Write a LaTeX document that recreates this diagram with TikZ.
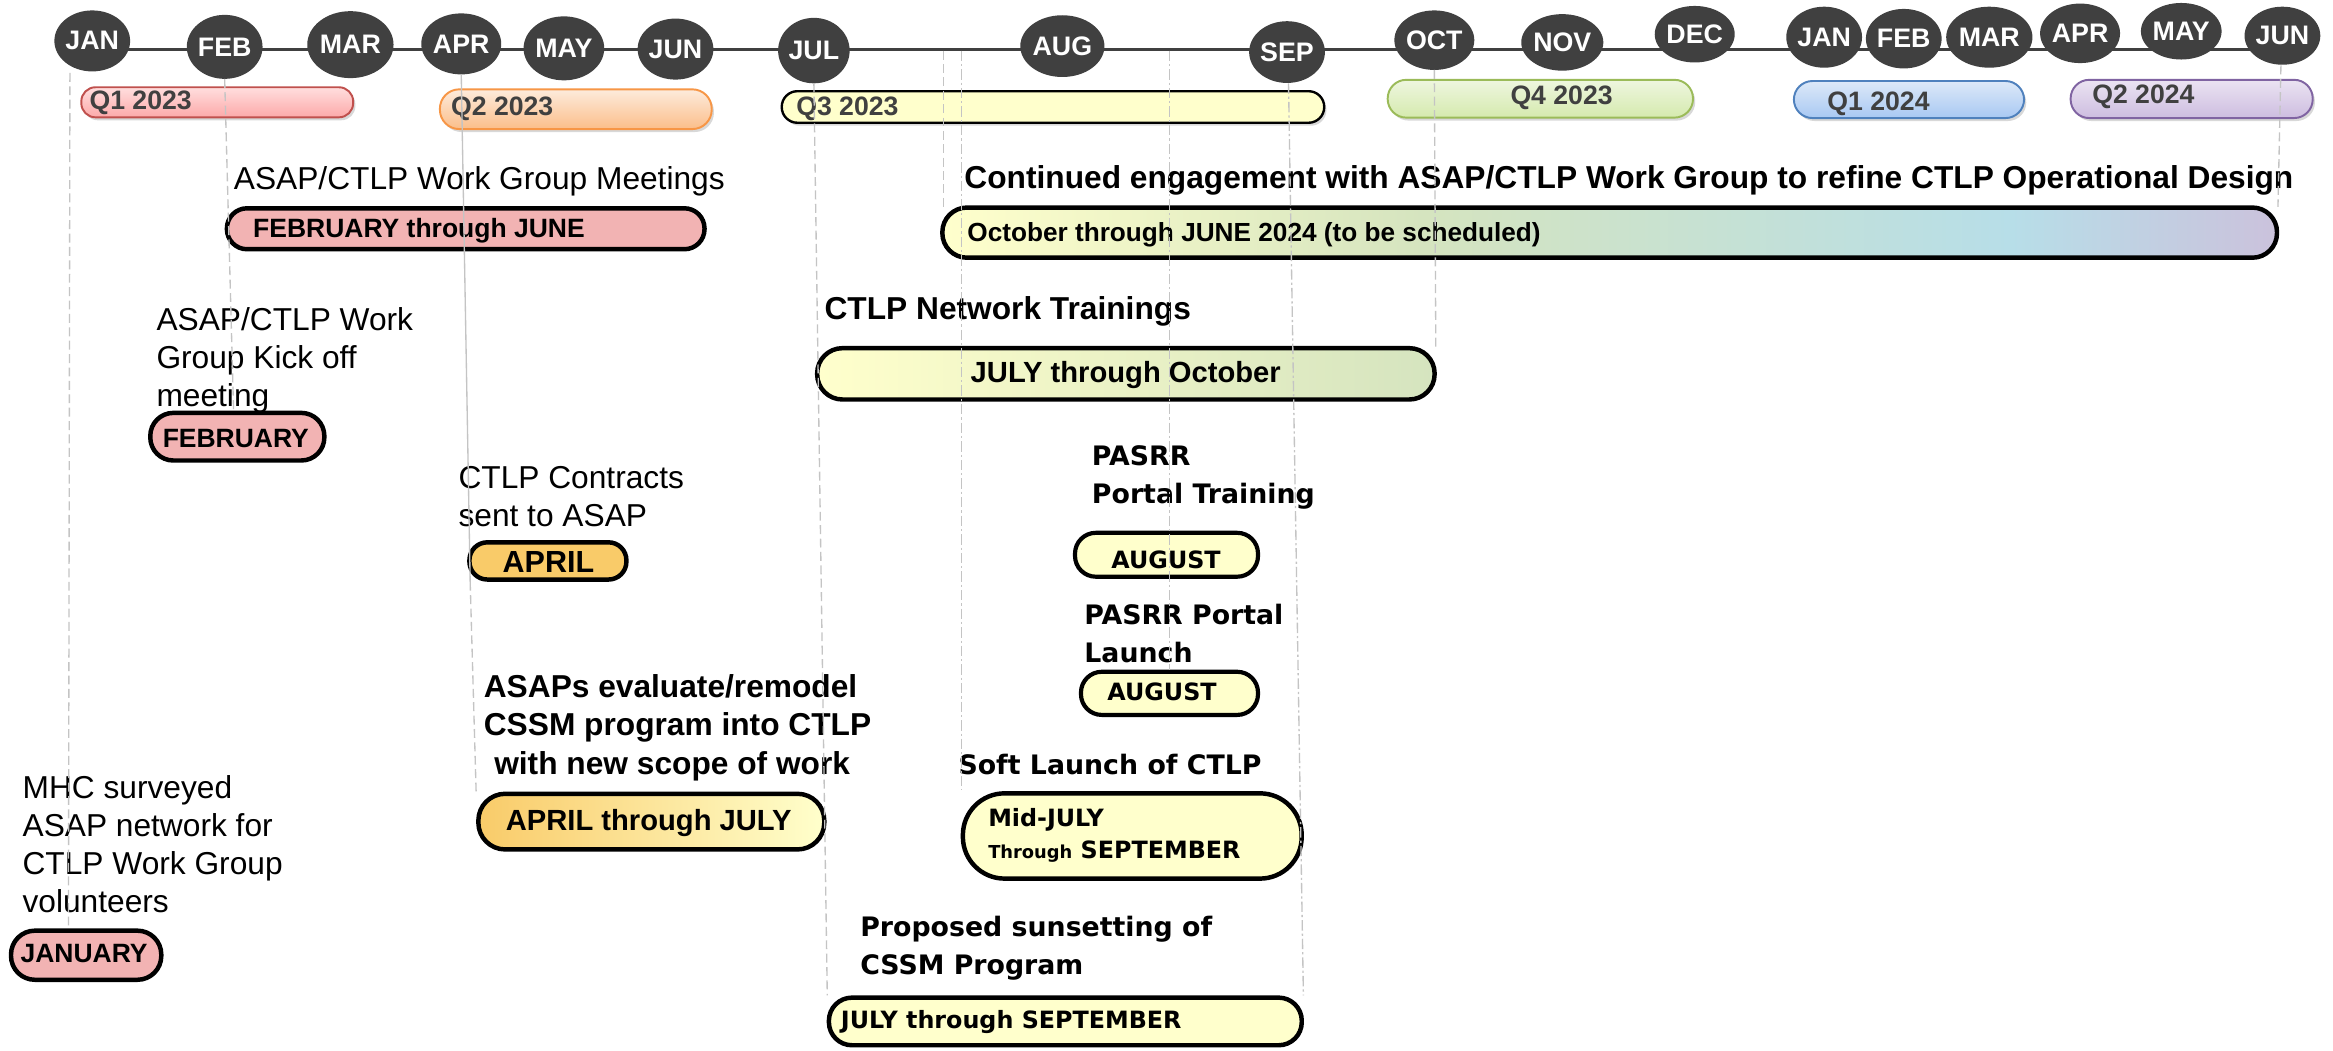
\documentclass[tikz,border=0pt]{standalone}
\usepackage{fontspec}
\setmainfont{Liberation Sans}
\newfontfamily\dvs{DejaVu Sans}
\usetikzlibrary{shapes.geometric,shadows}
\definecolor{mdark}{HTML}{404040}
\definecolor{pinkf}{HTML}{F2B3B3}
\definecolor{aprf}{HTML}{F9CB69}
\definecolor{cyel}{HTML}{FFFFCC}
\definecolor{cgrn}{HTML}{D5E4BF}
\definecolor{cblu}{HTML}{B7DEE8}
\definecolor{clav}{HTML}{CBC2DC}
\definecolor{qonet}{HTML}{FFDEDE}
\definecolor{qoneb}{HTML}{FCA9A9}
\definecolor{qoned}{HTML}{C0504D}
\definecolor{qtwot}{HTML}{FDEBDC}
\definecolor{qtwob}{HTML}{FBBE8A}
\definecolor{qtwod}{HTML}{F79646}
\definecolor{qfourt}{HTML}{EEF6DF}
\definecolor{qfourb}{HTML}{D5EAAE}
\definecolor{qfourd}{HTML}{9BBB59}
\definecolor{qfivet}{HTML}{DDE9F8}
\definecolor{qfiveb}{HTML}{A8C8F3}
\definecolor{qfived}{HTML}{4F81BD}
\definecolor{qsixt}{HTML}{EBE3F2}
\definecolor{qsixb}{HTML}{CDBDE0}
\definecolor{qsixd}{HTML}{8064A2}
\definecolor{guidec}{HTML}{C4C4C4}
\pgfdeclarehorizontalshading{contshade}{100bp}{color(0bp)=(cyel); color(25bp)=(cyel); color(43bp)=(cgrn); color(65bp)=(cblu); color(75bp)=(clav); color(100bp)=(clav)}
\tikzset{
  mon/.style={ellipse, fill=mdark, text=white, inner sep=0pt,
    font=\fontsize{18}{20}\selectfont\bfseries},
  qbar/.style={draw=#1, line width=1.3pt, inner sep=0pt,
    drop shadow={shadow xshift=1.5pt, shadow yshift=-2pt, opacity=0.3}},
  qtxt/.style={font=\fontsize{17.9}{20}\selectfont\bfseries, text=mdark, inner sep=0pt, anchor=west},
  evbox/.style={draw=black, line width=3pt, inner sep=0pt},
  evt/.style={font=\fontsize{21.3}{25.6}\selectfont, anchor=west, inner sep=0pt, align=left},
  evtb/.style={font=\fontsize{21.3}{25.9}\selectfont\bfseries, anchor=west, inner sep=0pt, align=left},
  pas/.style={font=\dvs\fontsize{18}{25.5}\selectfont\bfseries, anchor=west, inner sep=0pt, align=left},
  btxt/.style={font=\fontsize{17.8}{20}\selectfont\bfseries, inner sep=0pt},
  ptxt/.style={font=\dvs\fontsize{16}{21.7}\selectfont\bfseries, inner sep=0pt, align=left},
  guide/.style={draw=guidec, line width=0.9pt, dash pattern=on 6pt off 3pt},
  guided/.style={draw=guidec, line width=0.9pt, dash pattern=on 7pt off 2pt on 1.5pt off 2pt},
  guides/.style={draw=guidec, line width=0.9pt},
}
\begin{document}
\begin{tikzpicture}[x=1pt,y=-1pt]
\useasboundingbox (0,0) rectangle (1568,706);
\fill[white] (0,0) rectangle (1568,706);

% timeline
\coordinate (tls) at (62,33);
\coordinate (tle) at (1534,33);
\draw[mdark, line width=2pt] (tls) -- (tle);

% months
\node[mon, minimum width=42pt, minimum height=41pt] (jan23) at (62,27.5) {JAN};
\node[mon, minimum width=47pt, minimum height=43pt] (feb23) at (151,31.5) {FEB};
\node[mon, minimum width=43pt, minimum height=45pt] (mar23) at (235.5,30) {MAR};
\node[mon, minimum width=41pt, minimum height=41pt] (apr23) at (310,29.5) {APR};
\node[mon, minimum width=41pt, minimum height=43pt] (may23) at (379,32.5) {MAY};
\node[mon, minimum width=41pt, minimum height=41pt] (jun23) at (454,33) {JUN};
\node[mon, minimum width=45pt, minimum height=44pt] (jul23) at (547,34) {JUL};
\node[mon, minimum width=46pt, minimum height=41.5pt] (aug23) at (714,31) {AUG};
\node[mon, minimum width=46pt, minimum height=41.5pt] (sep23) at (865,35) {SEP};
\node[mon, minimum width=47pt, minimum height=40pt] (oct23) at (964,27) {OCT};
\node[mon, minimum width=48pt, minimum height=38pt] (nov23) at (1050,28.5) {NOV};
\node[mon, minimum width=41pt, minimum height=38pt] (dec23) at (1139,23) {DEC};
\node[mon, minimum width=38pt, minimum height=41pt] (jan24) at (1226,25) {JAN};
\node[mon, minimum width=36pt, minimum height=40pt] (feb24) at (1279.5,26) {FEB};
\node[mon, minimum width=41pt, minimum height=41pt] (mar24) at (1337,25) {MAR};
\node[mon, minimum width=42pt, minimum height=40pt] (apr24) at (1398,22.4) {APR};
\node[mon, minimum width=41pt, minimum height=38pt] (may24) at (1466,21) {MAY};
\node[mon, minimum width=41pt, minimum height=39pt] (jun24) at (1534,24) {JUN};

% quarter bars
\node[qbar=qoned, top color=qonet, bottom color=qoneb, rounded corners=9.5pt, minimum width=182.7pt, minimum height=20.2pt] (q1) at (146,68.75) {};
\node[qtxt] (q1t) at (60,68.8) {Q1 2023};
\node[qbar=qtwod, top color=qtwot, bottom color=qtwob, rounded corners=13pt, minimum width=182.7pt, minimum height=26.7pt] (q2) at (387,73.4) {};
\node[qtxt] (q2t) at (303,73) {Q2 2023};
\node[qbar=black, line width=1.6pt, fill=cyel, rounded corners=10.5pt, minimum width=364.6pt, minimum height=21.2pt] (q3) at (707.7,71.9) {};
\node[qtxt] (q3t) at (535,73) {Q3 2023};
\node[qbar=qfourd, top color=qfourt, bottom color=qfourb, rounded corners=12.5pt, minimum width=205.2pt, minimum height=25.4pt] (q4) at (1035.25,66.35) {};
\node[qtxt] (q4t) at (1015,65.5) {Q4 2023};
\node[qbar=qfived, top color=qfivet, bottom color=qfiveb, rounded corners=12.5pt, minimum width=154.7pt, minimum height=24.9pt] (q5) at (1283,66.9) {};
\node[qtxt] (q5t) at (1228,69.5) {Q1 2024};
\node[qbar=qsixd, top color=qsixt, bottom color=qsixb, rounded corners=12.5pt, minimum width=162.7pt, minimum height=25.7pt] (q6) at (1473,66.5) {};
\node[qtxt] (q6t) at (1406,65) {Q2 2024};

% events: left side
\node[evt] (t1) at (157,122) {ASAP/CTLP Work Group Meetings};
\node[evbox, fill=pinkf, rounded corners=13.5pt, minimum width=321pt, minimum height=27.5pt] (b1) at (313,153.75) {};
\node[btxt, anchor=west] (b1t) at (170,155) {FEBRUARY through JUNE};

\node[evt] (t2) at (105,242) {ASAP/CTLP Work\\Group Kick off\\meeting};
\node[evbox, fill=pinkf, rounded corners=15.5pt, minimum width=117pt, minimum height=32pt] (b2) at (159.5,293.5) {};
\node[btxt] (b2t) at (158.5,294.5) {FEBRUARY};

\node[evt] (t3) at (308,333.5) {CTLP Contracts\\sent to ASAP};
\node[evbox, fill=aprf, rounded corners=12pt, minimum width=105.5pt, minimum height=25pt] (b3) at (368.25,377) {};
\node[btxt, font=\fontsize{20.5}{22}\selectfont\bfseries] (b3t) at (368.6,377.5) {APRIL};

\node[evtb] (t4) at (325,489) {ASAPs evaluate/remodel\\CSSM program into CTLP\\\hspace*{7pt}with new scope of work};
\node[evbox, left color=aprf, right color=cyel, rounded corners=18pt, minimum width=232.5pt, minimum height=37.4pt] (b4) at (437.75,552.2) {};
\node[btxt, font=\fontsize{19.6}{22}\selectfont\bfseries] (b4t) at (436,553) {APRIL through JULY};

\node[evt] (t5) at (15,567.5) {MHC surveyed\\ASAP network for\\CTLP Work Group\\volunteers};
\node[evbox, fill=pinkf, rounded corners=16pt, minimum width=101pt, minimum height=33pt] (b5) at (57.9,642) {};
\node[btxt] (b5t) at (56.5,641) {JANUARY};

% events: right side
\node[evtb] (t6) at (648,121) {Continued engagement with ASAP/CTLP Work Group to refine CTLP Operational Design};
\node[evbox, shading=contshade, rounded corners=16.5pt, minimum width=897pt, minimum height=33.7pt] (b6) at (1081.85,156.35) {};
\node[btxt, anchor=west, font=\fontsize{17.6}{20}\selectfont\bfseries] (b6t) at (650,158) {October through JUNE 2024 (to be scheduled)};

\node[evtb] (t7) at (554,209.5) {CTLP Network Trainings};
\node[evbox, left color=cyel, right color=cgrn, rounded corners=17pt, minimum width=415pt, minimum height=34.5pt] (b7) at (756.7,251.25) {};
\node[btxt, font=\fontsize{19.6}{22}\selectfont\bfseries] (b7t) at (756.6,252) {JULY through October};

\node[pas] (t8) at (733.7,321) {PASRR\\Portal Training};
\node[evbox, line width=2.8pt, fill=cyel, rounded corners=14pt, minimum width=123pt, minimum height=29.5pt] (b8) at (784,372.85) {};
\node[ptxt] (b8t) at (783.7,376.5) {AUGUST};

\node[pas] (t9) at (728.6,425.7) {PASRR Portal\\Launch};
\node[evbox, line width=2.8pt, fill=cyel, rounded corners=14pt, minimum width=119pt, minimum height=29pt] (b9) at (786,466) {};
\node[ptxt] (b9t) at (781,465) {AUGUST};

\node[pas] (t10) at (644,513.5) {Soft Launch of CTLP};
\node[evbox, fill=cyel, rounded corners=28pt, minimum width=227.7pt, minimum height=57.3pt] (b10) at (761,561.85) {};
\node[ptxt, anchor=west] (b10t) at (664,561.5) {Mid-JULY\\{\fontsize{12}{14}\selectfont Through} SEPTEMBER};

\node[pas] (t11) at (578,637) {Proposed sunsetting of\\CSSM Program};
\node[evbox, fill=cyel, rounded corners=15.5pt, minimum width=317.8pt, minimum height=32pt] (b11) at (716,686.5) {};
\node[ptxt, anchor=west] (b11t) at (565,686.6) {JULY through SEPTEMBER};

% guide lines
\coordinate (gjan) at (47,49);
\coordinate (gjanE) at (46,624);
\coordinate (gfeb) at (151,53);
\coordinate (gfebE) at (157,276);
\coordinate (gapr) at (310,50);
\coordinate (gaprM) at (316,391);
\coordinate (gaprE) at (320,532);
\coordinate (gjul) at (547,56);
\coordinate (gjulE) at (556,669);
\coordinate (ga) at (634,34);
\coordinate (gaE) at (634,139);
\coordinate (gb) at (646,34);
\coordinate (gbE) at (646,531);
\coordinate (gc) at (786,34);
\coordinate (gcE) at (786,450);
\coordinate (gsep) at (866,56);
\coordinate (gsepE) at (876,669);
\coordinate (goct) at (964,47);
\coordinate (goctE) at (965,233);
\coordinate (gjun) at (1533,44);
\coordinate (gjunE) at (1531,139);
\draw[guide] (gjan) -- (gjanE);
\draw[guide] (gfeb) -- (gfebE);
\draw[guides] (gapr) -- (gaprM);
\draw[guide] (gaprM) -- (gaprE);
\draw[guide] (gjul) -- (gjulE);
\draw[guide] (ga) -- (gaE);
\draw[guided] (gb) -- (gbE);
\draw[guided] (gc) -- (gcE);
\draw[guided] (gsep) -- (gsepE);
\draw[guide] (goct) -- (goctE);
\draw[guide] (gjun) -- (gjunE);
\end{tikzpicture}
\end{document}
